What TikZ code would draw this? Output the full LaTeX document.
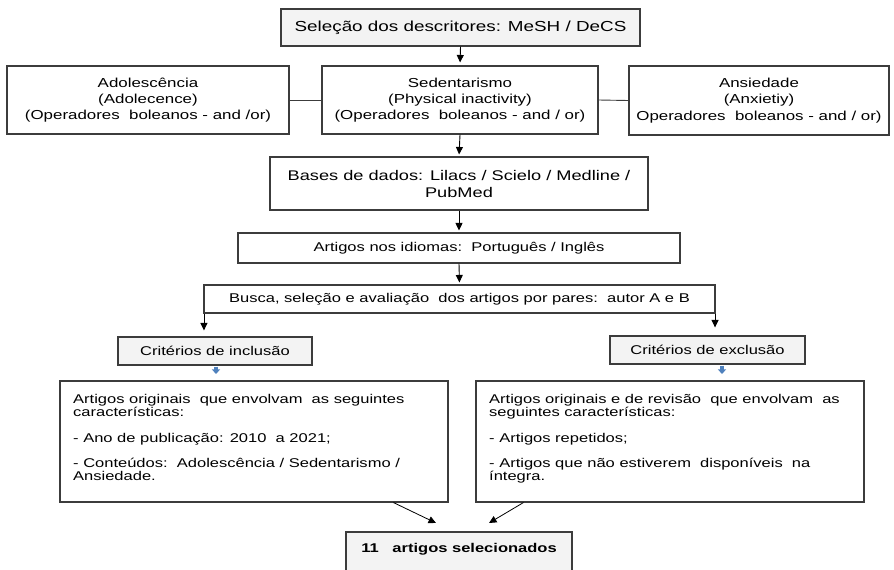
\documentclass[tikz,border=0pt]{standalone}
\usepackage{fontspec}
\setmainfont{Liberation Sans}[FakeStretch=1.3]
\usetikzlibrary{arrows.meta,calc}
\definecolor{bd}{HTML}{3C3C3C}
\definecolor{lt}{HTML}{F3F3F3}
\definecolor{ba}{HTML}{4F81BD}
\newcommand{\fSel}{\fontsize{14.5}{17}\selectfont}
\newcommand{\fMid}{\fontsize{13}{16.3}\selectfont}
\newcommand{\fBas}{\fontsize{14}{17}\selectfont}
\newcommand{\fBody}{\fontsize{12.7}{12.9}\selectfont}
\begin{document}
\begin{tikzpicture}[x=1pt,y=-1pt,
  box/.style={draw=bd,line width=1.1pt,rectangle,inner sep=0pt,align=center,fill=white},
  arr/.style={-{Triangle[width=7pt,length=7.5pt]},line width=0.9pt,black},
  barr/.style={-{Triangle[width=8pt,length=4.5pt]},line width=3.4pt,ba},
  link/.style={line width=0.9pt,bd}]
\fill[white] (0,0) rectangle (894,570);
\useasboundingbox (0,0) rectangle (894,570);

\node[box,fill=lt,minimum width=359pt,minimum height=37pt,font=\fSel] (sel) at (460.5,27.5) {Seleção dos descritores: MeSH / DeCS};

\node[box,minimum width=282pt,minimum height=68pt,font=\fMid] (adol) at (148,100) {Adolescência\\(Adolecence)\\(Operadores\ \ boleanos - and /or)};
\node[box,minimum width=276pt,minimum height=68pt,font=\fMid] (sed) at (460,100) {Sedentarismo\\(Physical inactivity)\\(Operadores\ \ boleanos - and / or)};
\node[box,minimum width=260pt,minimum height=69pt,font=\fMid] (ans) at (759,100.5) {Ansiedade\\(Anxietiy)\\Operadores\ \ boleanos - and / or)};

\node[box,minimum width=378pt,minimum height=53pt,font=\fBas] (bases) at (459,183.5) {Bases de dados: Lilacs / Scielo / Medline /\\PubMed};
\node[box,minimum width=442pt,minimum height=30pt,font=\fBody] (idi) at (459,248) {Artigos nos idiomas:\ \ Português / Inglês};
\node[box,minimum width=511pt,minimum height=28pt,font=\fBody] (busca) at (459.5,299) {Busca, seleção e avaliação\ \ dos artigos por pares:\ \ autor A e B};

\node[box,fill=lt,minimum width=194pt,minimum height=28pt,font=\fBody] (cinc) at (215,351) {Critérios de inclusão};
\node[box,fill=lt,minimum width=195pt,minimum height=28pt,font=\fBody] (cexc) at (707.5,350) {Critérios de exclusão};

\node[box,minimum width=388pt,minimum height=121pt] (inc) at (254,441.5) {};
\node[box,minimum width=388pt,minimum height=121pt] (exc) at (670,441.5) {};
\node[anchor=north west,inner sep=0pt,align=left,font=\fBody] (inctext) at (73,394) {Artigos originais\ \ que envolvam\ \ as seguintes\\características:\\[12.9pt]- Ano de publicação: 2010\ \ a 2021;\\[12.9pt]- Conteúdos:\ \ Adolescência / Sedentarismo /\\Ansiedade.};
\node[anchor=north west,inner sep=0pt,align=left,font=\fBody] (exctext) at (489,394) {Artigos originais e de revisão\ \ que envolvam\ \ as\\seguintes características:\\[12.9pt]- Artigos repetidos;\\[12.9pt]- Artigos que não estiverem\ \ disponíveis\ \ na\\íntegra.};

\node[box,fill=lt,minimum width=226pt,minimum height=52pt] (final) at (459,558) {};
\node[anchor=base,inner sep=0pt,font=\fBody\bfseries] (finaltext) at (459,552.5) {11\ \ \ artigos selecionados};

% connectors
\draw[link] (adol.east) -- (sed.west);
\draw[link] (sed.east) -- (ans.west);
\draw[arr,shorten >=3pt] (sel.south) -- (sed.north);
\draw[arr,shorten >=2pt] (sed.south) -- (bases.north);
\draw[arr,shorten >=2pt] (bases.south) -- (idi.north);
\draw[arr,shorten >=2pt] (idi.south) -- (busca.north);
\draw[arr,shorten >=6pt] ([xshift=0.5pt]busca.south west) -- ([xshift=0.5pt]busca.south west |- cinc.north);
\draw[arr,shorten >=8pt] ([xshift=-0.5pt]busca.south east) -- ([xshift=-0.5pt]busca.south east |- cexc.north);
\draw[barr,shorten >=6.5pt] ([xshift=1pt,yshift=-1pt]cinc.south) -- ([xshift=1pt]cinc.south |- inc.north);
\draw[barr,shorten >=6.5pt] ([xshift=14.5pt,yshift=-1pt]cexc.south) -- ([xshift=14.5pt]cexc.south |- exc.north);
\coordinate (fl) at (436,523);
\coordinate (fr) at (489,523);
\draw[arr,line width=0.8pt] ([xshift=334pt]inc.south west) -- (fl);
\draw[arr,line width=0.8pt] ([xshift=48pt]exc.south west) -- (fr);
\end{tikzpicture}
\end{document}
